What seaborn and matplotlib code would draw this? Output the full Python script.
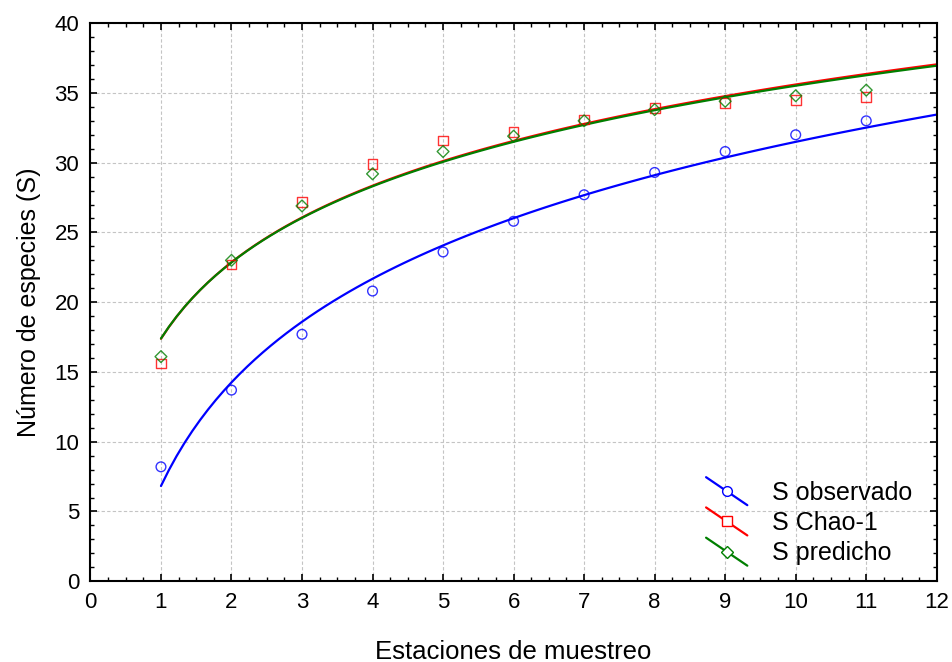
import numpy as np
import matplotlib
matplotlib.use("Agg")
import matplotlib.pyplot as plt
import seaborn as sns
from matplotlib.legend_handler import HandlerLine2D
from matplotlib.lines import Line2D
from matplotlib.ticker import MultipleLocator

estaciones = [1, 2, 3, 4, 5, 6, 7, 8, 9, 10, 11]
s_observado = [8.2, 13.7, 17.7, 20.8, 23.6, 25.8, 27.7, 29.3, 30.8, 32.0, 33.0]
s_chao1 = [15.6, 22.7, 27.2, 29.9, 31.6, 32.2, 33.1, 33.9, 34.3, 34.5, 34.7]
s_predicho = [16.1, 23.0, 26.9, 29.2, 30.8, 31.9, 33.0, 33.8, 34.4, 34.8, 35.2]

series = [
    ("S observado", s_observado, "#0000ff", "o"),
    ("S Chao-1", s_chao1, "#ff0000", "s"),
    ("S predicho", s_predicho, "#007f00", "D"),
]


class DiagonalHandler(HandlerLine2D):
    # legend line drawn as a falling diagonal, marker in the middle
    def create_artists(self, legend, orig_handle, xdescent, ydescent,
                       width, height, fontsize, trans):
        artists = super().create_artists(legend, orig_handle, xdescent, ydescent,
                                         width, height, fontsize, trans)
        yc = (height - ydescent) / 2
        x0, x1 = -xdescent, -xdescent + width
        for a in artists:
            a.set_data([x0, (x0 + x1) / 2, x1],
                       [yc + 0.8 * height, yc, yc - 0.8 * height])
        return artists


sns.set_theme(style="white")
plt.rcParams["font.family"] = ["Liberation Sans", "DejaVu Sans"]
plt.rcParams["text.color"] = "black"
plt.rcParams["axes.labelcolor"] = "black"
plt.rcParams["xtick.color"] = "black"
plt.rcParams["ytick.color"] = "black"

fig, ax = plt.subplots(figsize=(9.52, 6.62), dpi=100)
fig.subplots_adjust(left=0.095, right=0.984, top=0.965, bottom=0.122)

ax.set_xlim(1, 12)
handles = []
for name, vals, col, mk in series:
    msize = 6 if mk == "D" else 7
    sns.regplot(x=estaciones, y=vals, logx=True, ci=None, truncate=False, ax=ax,
                color=col, marker=mk,
                scatter_kws=dict(s=msize ** 2, facecolors="none", edgecolors=col,
                                 linewidths=1.0, zorder=3),
                line_kws=dict(lw=1.6, color=col, zorder=2))
    handles.append(Line2D([], [], color=col, lw=1.6, marker=mk, markersize=msize,
                          markerfacecolor="white", markeredgecolor=col,
                          markeredgewidth=1.0, label=name))

ax.set_xlim(0, 12)
ax.set_ylim(0, 40)
ax.xaxis.set_major_locator(MultipleLocator(1))
ax.xaxis.set_minor_locator(MultipleLocator(0.25))
ax.yaxis.set_major_locator(MultipleLocator(5))
ax.yaxis.set_minor_locator(MultipleLocator(1))
ax.grid(True, which="major", color="#c4c4c4", ls=(0, (3, 2)), lw=0.8)
ax.tick_params(which="both", direction="in", top=True, right=True, left=True,
               bottom=True, color="black", labelcolor="black", labelsize=16)
ax.tick_params(which="major", length=5, width=1.2, pad=8)
ax.tick_params(which="minor", length=3, width=1.0)
for sp in ax.spines.values():
    sp.set_color("black")
    sp.set_linewidth(1.5)

ax.set_xlabel("Estaciones de muestreo", fontsize=18.5, labelpad=19, color="black")
ax.set_ylabel("Número de especies (S)", fontsize=18, labelpad=10, color="black")

ax.legend(handles=handles, loc="lower right", bbox_to_anchor=(0.998, -0.012),
          frameon=False, fontsize=18, handlelength=1.65, handletextpad=1.0,
          labelspacing=0.25, labelcolor="black",
          handler_map={Line2D: DiagonalHandler()})

fig.savefig("out.png", dpi=100)
